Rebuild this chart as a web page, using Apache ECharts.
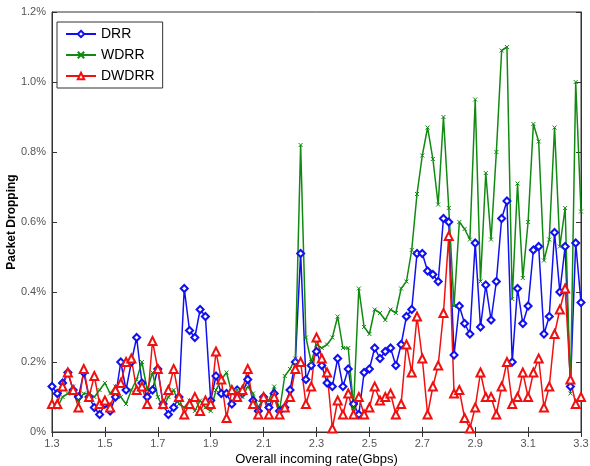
<!DOCTYPE html>
<html>
 <head>
  <meta charset="utf-8" />
  <title>Packet Dropping</title>
  <script src="https://cdn.jsdelivr.net/npm/echarts@6/dist/echarts.min.js"></script>
 </head>
 <body style="margin:0;background:#fff;">
  <div id="main" style="width:590px;height:466px;"></div>
  <script type="text/javascript">

    // incoming rate (Gbps), one sample every 0.02
    var rates = [
      1.30,1.32,1.34,1.36,1.38,1.40,1.42,1.44,1.46,1.48,
      1.50,1.52,1.54,1.56,1.58,1.60,1.62,1.64,1.66,1.68,
      1.70,1.72,1.74,1.76,1.78,1.80,1.82,1.84,1.86,1.88,
      1.90,1.92,1.94,1.96,1.98,2.00,2.02,2.04,2.06,2.08,
      2.10,2.12,2.14,2.16,2.18,2.20,2.22,2.24,2.26,2.28,
      2.30,2.32,2.34,2.36,2.38,2.40,2.42,2.44,2.46,2.48,
      2.50,2.52,2.54,2.56,2.58,2.60,2.62,2.64,2.66,2.68,
      2.70,2.72,2.74,2.76,2.78,2.80,2.82,2.84,2.86,2.88,
      2.90,2.92,2.94,2.96,2.98,3.00,3.02,3.04,3.06,3.08,
      3.10,3.12,3.14,3.16,3.18,3.20,3.22,3.24,3.26,3.28,
      3.30
    ];

    // packet dropping in percent
    var drr = [
      0.13,0.11,0.14,0.17,0.12,0.10,0.17,0.10,0.07,0.05,
      0.08,0.06,0.10,0.20,0.12,0.20,0.27,0.14,0.10,0.12,
      0.18,0.08,0.05,0.07,0.10,0.41,0.29,0.27,0.35,0.33,
      0.09,0.16,0.11,0.11,0.08,0.12,0.11,0.15,0.09,0.06,
      0.10,0.07,0.11,0.06,0.07,0.12,0.20,0.51,0.15,0.19,
      0.23,0.19,0.14,0.13,0.21,0.13,0.18,0.08,0.05,0.17,
      0.18,0.24,0.21,0.23,0.24,0.19,0.25,0.33,0.35,0.51,
      0.51,0.46,0.45,0.43,0.61,0.60,0.22,0.36,0.31,0.28,
      0.54,0.30,0.42,0.32,0.43,0.61,0.66,0.20,0.41,0.31,
      0.36,0.52,0.53,0.28,0.33,0.57,0.40,0.53,0.13,0.54,
      0.37
    ];
    var wdrr = [
      0.08,0.07,0.10,0.11,0.13,0.09,0.11,0.11,0.10,0.12,
      0.14,0.11,0.13,0.10,0.08,0.12,0.15,0.20,0.12,0.17,
      0.10,0.07,0.10,0.12,0.08,0.07,0.09,0.06,0.09,0.07,
      0.06,0.12,0.15,0.17,0.11,0.12,0.10,0.13,0.11,0.07,
      0.10,0.09,0.13,0.06,0.16,0.18,0.21,0.82,0.27,0.20,
      0.25,0.24,0.25,0.27,0.33,0.24,0.24,0.07,0.41,0.30,
      0.28,0.35,0.34,0.32,0.35,0.34,0.41,0.43,0.52,0.68,
      0.79,0.87,0.78,0.65,0.90,0.64,0.36,0.60,0.58,0.55,
      0.95,0.43,0.74,0.55,0.80,1.09,1.10,0.38,0.71,0.44,
      0.60,0.88,0.83,0.49,0.55,0.87,0.53,0.64,0.11,1.00,
      0.63
    ];
    var dwdrr = [
      0.08,0.08,0.13,0.17,0.12,0.07,0.18,0.10,0.16,0.08,
      0.09,0.07,0.12,0.14,0.20,0.21,0.12,0.13,0.08,0.26,
      0.18,0.08,0.12,0.18,0.10,0.05,0.08,0.10,0.06,0.09,
      0.08,0.23,0.15,0.04,0.12,0.10,0.12,0.18,0.08,0.05,
      0.10,0.05,0.10,0.05,0.07,0.10,0.18,0.20,0.08,0.13,
      0.27,0.21,0.17,0.01,0.09,0.05,0.11,0.05,0.10,0.05,
      0.07,0.13,0.09,0.10,0.11,0.05,0.08,0.25,0.17,0.33,
      0.21,0.05,0.13,0.19,0.34,0.56,0.11,0.12,0.04,0.01,
      0.07,0.17,0.10,0.10,0.05,0.13,0.20,0.08,0.10,0.17,
      0.10,0.17,0.21,0.07,0.13,0.28,0.35,0.41,0.15,0.08,
      0.10
    ];

    var myChart = echarts.init(document.getElementById('main'));

    var font = 'Liberation Sans, Arial, sans-serif';
    var tick = { show: true, inside: true, length: 5, interval: 9, lineStyle: { color: '#333' } };
    var line = { show: true, lineStyle: { color: '#333', width: 1 } };

    myChart.setOption({
        animation: false,
        textStyle: { fontFamily: font },
        grid: {
            left: 52, right: 9, top: 12, bottom: 34,
            outerBoundsMode: 'none', containLabel: false,
            show: true, borderColor: '#333', borderWidth: 1
        },
        legend: {
            orient: 'vertical',
            left: 57, top: 22,
            itemWidth: 30, itemHeight: 8, itemGap: 7,
            padding: [5, 8, 5, 8],
            borderColor: '#333', borderWidth: 1,
            backgroundColor: '#fff',
            textStyle: { fontSize: 14, color: '#000' },
            data: ['DRR', 'WDRR', 'DWDRR']
        },
        xAxis: [{
            type: 'category',
            data: rates,
            boundaryGap: false,
            axisLine: line,
            axisTick: tick,
            axisLabel: {
                interval: 9, color: '#555', fontSize: 11, margin: 6,
                formatter: function (v) { return Number(v).toFixed(1); }
            },
            splitLine: { show: false },
            name: 'Overall incoming rate(Gbps)',
            nameLocation: 'middle',
            nameGap: 21,
            nameMoveOverlap: false,
            nameTextStyle: { fontSize: 13, color: '#000' }
        }, {
            type: 'category',
            data: rates,
            position: 'top',
            boundaryGap: false,
            axisLine: line,
            axisTick: tick,
            axisLabel: { show: false }
        }],
        yAxis: [{
            type: 'value',
            min: 0, max: 1.2, interval: 0.2,
            axisLine: line,
            axisTick: { show: true, inside: true, length: 5, lineStyle: { color: '#333' } },
            axisLabel: {
                color: '#555', fontSize: 11, margin: 6,
                formatter: function (v) { return v === 0 ? '0%' : v.toFixed(1) + '%'; }
            },
            splitLine: { show: false },
            name: 'Packet Dropping',
            nameLocation: 'middle',
            nameGap: 34,
            nameMoveOverlap: false,
            nameTextStyle: { fontSize: 12, color: '#000', fontWeight: 'bold' }
        }, {
            type: 'value',
            min: 0, max: 1.2, interval: 0.2,
            position: 'right',
            axisLine: line,
            axisTick: { show: true, inside: true, length: 5, lineStyle: { color: '#333' } },
            axisLabel: { show: false },
            splitLine: { show: false }
        }],
        series: [{
            name: 'DRR',
            type: 'line',
            data: drr,
            symbol: 'emptyDiamond',
            symbolSize: 7,
            showAllSymbol: true,
            color: '#1010f0',
            lineStyle: { width: 1.5 },
            itemStyle: { borderWidth: 1.3 }
        }, {
            name: 'WDRR',
            type: 'line',
            data: wdrr,
            symbol: 'path://M0,0L8,8M8,0L0,8',
            symbolSize: 4,
            showAllSymbol: true,
            color: '#108a10',
            lineStyle: { width: 1.5 },
            itemStyle: { borderColor: '#108a10', borderWidth: 1 }
        }, {
            name: 'DWDRR',
            type: 'line',
            data: dwdrr,
            symbol: 'emptyTriangle',
            symbolSize: 8,
            showAllSymbol: true,
            color: '#f01010',
            lineStyle: { width: 1.5 },
            itemStyle: { borderWidth: 1.3 }
        }]
    });
</script>
 </body>
</html>
